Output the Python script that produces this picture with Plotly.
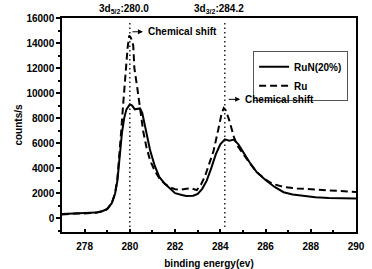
import plotly.graph_objects as go

# RuN(20%) (solid)
run_x = [277.0, 277.3, 277.6, 277.9, 278.2, 278.5, 278.8, 279.0, 279.2, 279.35, 279.45, 279.55,
         279.65, 279.75, 279.85, 280.0, 280.1, 280.22, 280.35, 280.45, 280.55, 280.65, 280.75,
         280.9, 281.1, 281.3, 281.55, 281.8, 282.0, 282.3, 282.5, 282.8, 283.0, 283.2, 283.4,
         283.6, 283.8, 284.0, 284.2, 284.4, 284.6, 284.8, 285.0, 285.3, 285.6, 286.0, 286.4,
         286.8, 287.2, 287.7, 288.2, 288.8, 289.3, 290.0]
run_y = [330, 360, 380, 390, 410, 450, 580, 750, 1200, 2000, 3000, 4800,
         6800, 8000, 8700, 9100, 9000, 8700, 8750, 8770, 8400, 7600, 6600,
         5400, 4200, 3300, 2750, 2300, 2000, 1850, 1780, 1800, 1950, 2350, 3000,
         4000, 5100, 5900, 6300, 6200, 6280, 5900, 5300, 4450, 3700, 3050, 2500,
         2080, 1900, 1760, 1680, 1620, 1600, 1580]

# Ru (dashed)
ru_x = [277.0, 277.3, 277.6, 277.9, 278.2, 278.5, 278.8, 279.0, 279.2, 279.35, 279.45, 279.55,
        279.62, 279.7, 279.76, 279.82, 279.9, 279.97, 280.05, 280.15, 280.2, 280.33, 280.44,
        280.59, 280.74, 280.9, 281.1, 281.3, 281.55, 281.8, 282.0, 282.22, 282.5, 282.7,
        282.96, 283.15, 283.33, 283.5, 283.7, 283.9, 284.05, 284.15, 284.25, 284.4, 284.52,
        284.6, 284.75, 284.9, 285.0, 285.3, 285.6, 286.0, 286.3, 286.8, 287.4, 288.0, 288.4,
        289.0, 289.5, 290.0]
ru_y = [300, 350, 370, 380, 400, 440, 560, 720, 1200, 2000, 3200, 5200,
        7000, 9000, 10600, 12200, 13600, 14600, 14400, 13800, 12000, 10400, 8800,
        6950, 5630, 4600, 3800, 3200, 2740, 2450, 2320, 2270, 2350, 2400,
        2250, 2700, 3400, 4300, 5370, 7000, 8300, 8800, 8600, 7800, 7000,
        6500, 5800, 5400, 5200, 4400, 3700, 3100, 2750, 2500, 2380, 2320, 2290,
        2200, 2150, 2100]

peak_lines = [280.0, 284.2]
peak_labels = ["3d<sub>5/2</sub>:280.0", "3d<sub>3/2</sub>:284.2"]

FONT = "Liberation Sans"

fig = go.Figure()
fig.add_trace(go.Scatter(x=run_x, y=run_y, mode="lines", name="RuN(20%)",
                         line=dict(color="black", width=2)))
fig.add_trace(go.Scatter(x=ru_x, y=ru_y, mode="lines", name="Ru",
                         line=dict(color="black", width=2, dash="7px,4px")))

for xv in peak_lines:
    fig.add_shape(type="line", xref="x", yref="y", x0=xv, x1=xv, y0=-700, y1=15800,
                  line=dict(color="black", width=1.3, dash="1.5px,3px"))

for xv, lab in zip(peak_lines, peak_labels):
    fig.add_annotation(x=xv, y=1.0, xref="x", yref="paper", yanchor="bottom", xanchor="center",
                       xshift=-6, yshift=1, text=lab, showarrow=False,
                       font=dict(family=FONT, size=10, color="black", weight="bold"))

# Chemical shift arrows and labels
arrows = [(280.58, 14900, -12), (284.88, 9500, -13)]
for xh, yh, ax in arrows:
    fig.add_annotation(x=xh, y=yh, xref="x", yref="y", text="", showarrow=True,
                       ax=ax, ay=0, arrowhead=2, arrowsize=1, arrowwidth=1, arrowcolor="black")
    fig.add_annotation(x=xh, y=yh, xref="x", yref="y", text="Chemical shift", showarrow=False,
                       xanchor="left", xshift=3,
                       font=dict(family=FONT, size=10, color="black", weight="bold"))

fig.update_layout(
    width=372, height=269,
    margin=dict(l=62, r=16, t=15, b=37),
    paper_bgcolor="white", plot_bgcolor="white",
    showlegend=True,
    legend=dict(x=0.65, y=0.845, xanchor="left", yanchor="top",
                bgcolor="white", bordercolor="#555", borderwidth=1,
                font=dict(family=FONT, size=10, color="black", weight="bold"),
                itemwidth=30, tracegroupgap=0),
    font=dict(family=FONT, size=10, color="black"),
)

fig.update_xaxes(range=[277, 290], dtick=2, tick0=278, ticks="inside", ticklen=3,
                 tickwidth=1.5, tickcolor="black", ticklabelstandoff=4, automargin=False,
                 minor=dict(dtick=1, ticks="inside", ticklen=2, tickcolor="black"),
                 showline=True, linecolor="black", linewidth=1.5, mirror=True,
                 showgrid=False, zeroline=False,
                 tickfont=dict(family=FONT, size=10, color="black", weight="bold"),
                 title=dict(text="binding energy(ev)",
                            font=dict(family=FONT, size=10, color="black", weight="bold")))
fig.update_yaxes(range=[-1100, 16000], dtick=2000, tick0=0, ticks="outside", ticklen=4,
                 tickwidth=1.5, tickcolor="black", tickformat="d", automargin=True,
                 minor=dict(dtick=1000, ticks="outside", ticklen=2, tickcolor="black"),
                 showline=True, linecolor="black", linewidth=1.5, mirror=True,
                 showgrid=False, zeroline=False,
                 tickfont=dict(family=FONT, size=10, color="black", weight="bold"),
                 title=dict(text="counts/s", standoff=2,
                            font=dict(family=FONT, size=10, color="black", weight="bold")))

fig.write_html("out.html")
